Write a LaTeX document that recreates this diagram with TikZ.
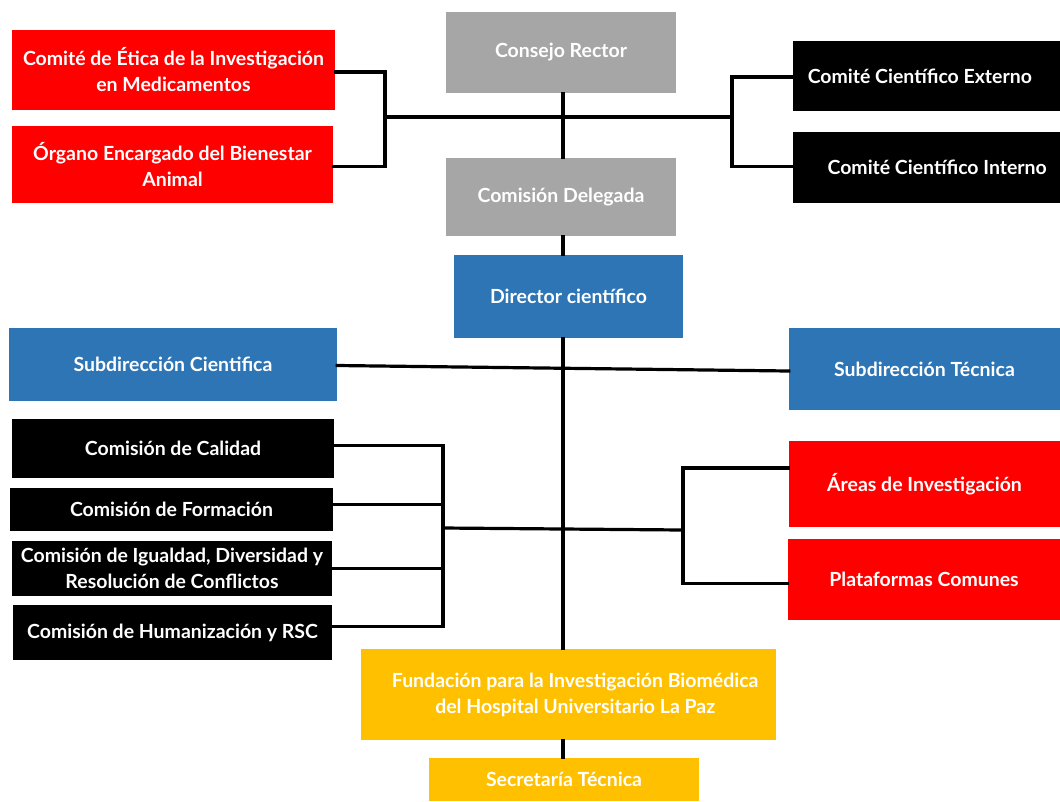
\documentclass[tikz,border=0pt]{standalone}
\usepackage{fontspec}
\setmainfont{Lato}
\usetikzlibrary{fit,calc}
\definecolor{cred}{HTML}{FF0000}
\definecolor{cgrey}{HTML}{A6A6A6}
\definecolor{cblue}{HTML}{2E75B6}
\definecolor{cblack}{HTML}{000000}
\definecolor{cyellow}{HTML}{FFC000}
\tikzset{
  box/.style={inner sep=0pt, draw=none, text=white, font=\bfseries\fontsize{14.6}{19.5}\selectfont, align=center},
  redbox/.style={box, fill=cred},
  greybox/.style={box, fill=cgrey},
  bluebox/.style={box, fill=cblue},
  blackbox/.style={box, fill=cblack},
  yellowbox/.style={box, fill=cyellow},
  conn/.style={line width=2.4pt, black, line cap=rect}
}
\newcommand{\bx}[7]{\node[#6, fit={(#2,#3) (#4,#5)}] (#1) {};
  \node[#6, fill=none] at (#1.center) {#7};}
\begin{document}
\begin{tikzpicture}[x=0.75pt, y=-0.75pt]
\useasboundingbox (0,0) rectangle (1060,801);
% boxes
\bx{etica}{12}{30}{335}{110}{redbox}{Comité de Ética de la Investigación\\en Medicamentos}
\bx{organo}{12}{126}{333}{203}{redbox}{Órgano Encargado del Bienestar\\Animal}
\bx{consejo}{446}{12}{676}{93}{greybox}{Consejo Rector}
\bx{delegada}{446}{158}{676}{236}{greybox}{Comisión Delegada}
\bx{director}{454}{255}{683}{338}{bluebox}{Director científico}
\bx{externo}{793}{41}{1060}{111}{blackbox}{\hspace*{-10pt}Comité Científico Externo}
\bx{interno}{793}{132}{1060}{203}{blackbox}{\hspace*{16pt}Comité Científico Interno}
\bx{subcien}{9}{328}{337}{401}{bluebox}{Subdirección Cientifica}
\bx{subtec}{789}{328}{1060}{410}{bluebox}{Subdirección Técnica}
\bx{calidad}{12}{419}{334}{478}{blackbox}{Comisión de Calidad}
\bx{formacion}{10}{488}{333}{531}{blackbox}{Comisión de Formación}
\bx{igualdad}{12}{541}{332}{596}{blackbox}{Comisión de Igualdad, Diversidad y\\Resolución de Conflictos}
\bx{humaniz}{13}{605}{332}{660}{blackbox}{Comisión de Humanización y RSC}
\bx{areas}{789}{441}{1060}{527}{redbox}{Áreas de Investigación}
\bx{plataf}{788}{539}{1060}{620}{redbox}{Plataformas Comunes}
\bx{fundacion}{361}{649}{776}{740}{yellowbox}{\hspace*{10pt}Fundación para la Investigación Biomédica\\\hspace*{10pt}del Hospital Universitario La Paz}
\bx{secret}{429}{758}{699}{801}{yellowbox}{Secretaría Técnica}
% coordinates
\coordinate (sp) at (563,0);
\coordinate (brL) at (385,117);
\coordinate (brR) at (732,117);
\coordinate (brC) at (443,528);
\coordinate (brA) at (683,530);
% connectors
\draw[conn] (consejo.south -| sp) -- (delegada.north -| sp);
\draw[conn] (delegada.south -| sp) -- (director.north -| sp);
\draw[conn] (director.south -| sp) -- (fundacion.north -| sp);
\draw[conn] (fundacion.south -| sp) -- (secret.north -| sp);
\draw[conn] ($(etica.east)+(0,2)$) -| (brL) |- ($(organo.east)+(0,2)$);
\draw[conn] (brL) -- (brR);
\draw[conn] ($(externo.west)+(0,1)$) -| (brR) |- ($(interno.west)+(0,-1)$);
\draw[conn] ($(subcien.east)+(0,1)$) -- ($(subtec.west)+(0,2)$);
\draw[conn] ($(calidad.east)+(0,-3)$) -| (brC |- {$(humaniz.east)+(0,-6)$}) -- ($(humaniz.east)+(0,-6)$);
\draw[conn] ($(formacion.east)+(0,-5)$) -- (brC |- {$(formacion.east)+(0,-5)$});
\draw[conn] (igualdad.east) -- (brC |- igualdad.east);
\draw[conn] (brC) -- (brA);
\draw[conn] ($(areas.west)+(0,-16)$) -| (brA) |- ($(plataf.west)+(0,4)$);
\end{tikzpicture}
\end{document}
